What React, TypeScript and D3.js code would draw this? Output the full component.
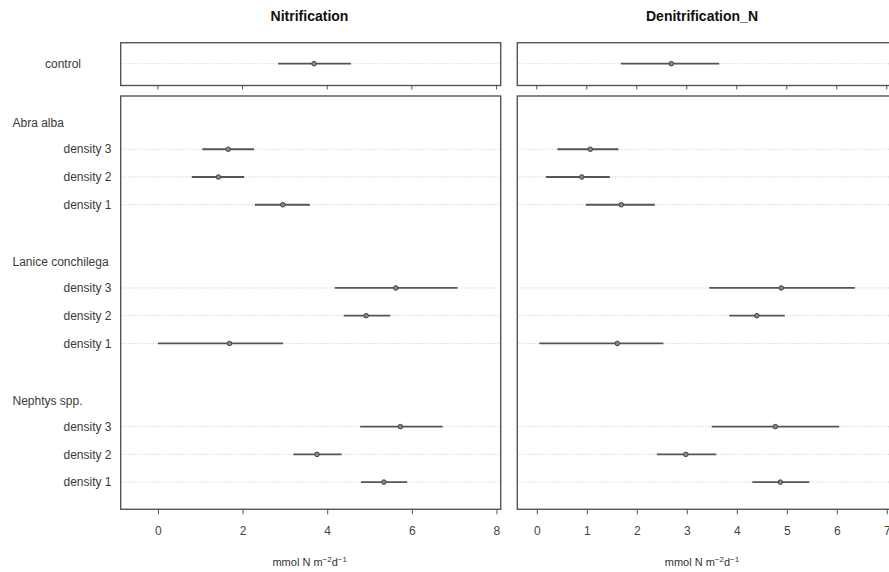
import React, { useEffect, useRef } from "react";
import * as d3 from "d3";

const panelTitles = ["Nitrification", "Denitrification_N"];
const groups = ["Abra alba", "Lanice conchilega", "Nephtys spp."];
const densities = ["density 3", "density 2", "density 1"];
const controlLabel = "control";

// Nitrification (control first, then group x density rows top to bottom)
const nitrCtrl = [3.69, 2.84, 4.56];
const nitrMean = [1.66, 1.43, 2.95, 5.62, 4.92, 1.69, 5.73, 3.76, 5.34];
const nitrLo = [1.05, 0.8, 2.29, 4.18, 4.39, 0.0, 4.78, 3.2, 4.8];
const nitrHi = [2.27, 2.04, 3.59, 7.08, 5.49, 2.96, 6.73, 4.34, 5.89];

// Denitrification_N
const denCtrl = [2.69, 1.68, 3.65];
const denMean = [1.07, 0.9, 1.69, 4.89, 4.4, 1.61, 4.77, 2.98, 4.87];
const denLo = [0.41, 0.18, 0.98, 3.45, 3.85, 0.05, 3.5, 2.4, 4.31];
const denHi = [1.63, 1.46, 2.36, 6.36, 4.96, 2.53, 6.05, 3.59, 5.45];

const nitrTicks = [0, 2, 4, 6, 8];
const denTicks = [0, 1, 2, 3, 4, 5, 6, 7];

export default function App() {
  const ref = useRef<SVGSVGElement>(null);
  useEffect(() => {
    const svg = d3.select(ref.current);
    svg.selectAll("*").remove();
    const font = "'Liberation Sans', Arial, sans-serif";
    const textCol = "#3a3a3a";
    const ctrlTop = 42.7, ctrlBot = 85.5, ctrlY = 63.7;
    const mainTop = 96, mainBot = 509.3;
    const y = d3.scaleLinear().domain([-0.92, 13.98]).range([mainTop, mainBot]);

    const panels = [
      { title: panelTitles[0], x: d3.scaleLinear().domain([-0.88, 8.1]).range([120.7, 500.7]), ticks: nitrTicks,
        ctrl: nitrCtrl, mean: nitrMean, lo: nitrLo, hi: nitrHi, titleX: 309.5 },
      { title: panelTitles[1], x: d3.scaleLinear().domain([-0.39, 7.3]).range([517.3, 901.8]), ticks: denTicks,
        ctrl: denCtrl, mean: denMean, lo: denLo, hi: denHi, titleX: 702 },
    ];

    // rows
    const rowIdx: number[] = [];
    groups.forEach((g, gi) => densities.forEach((d, di) => rowIdx.push(gi * 5 + 1 + di)));

    // left labels
    svg.append("text").attr("x", 45).attr("y", ctrlY).attr("dy", "0.35em")
      .attr("font-family", font).attr("font-size", 12).attr("fill", textCol).text(controlLabel);
    groups.forEach((g, gi) => {
      svg.append("text").attr("x", 12.5).attr("y", y(gi * 5) + 1.5).attr("dy", "0.35em")
        .attr("font-family", font).attr("font-size", 12).attr("fill", textCol).text(g);
      densities.forEach((d, di) => {
        svg.append("text").attr("x", 111.5).attr("y", y(gi * 5 + 1 + di)).attr("dy", "0.35em")
          .attr("text-anchor", "end").attr("font-family", font).attr("font-size", 12).attr("fill", textCol).text(d);
      });
    });

    panels.forEach((p) => {
      const [x0, x1] = p.x.range();
      const g = svg.append("g");
      // title
      g.append("text").attr("x", p.titleX).attr("y", 20.5).attr("text-anchor", "middle")
        .attr("font-family", font).attr("font-size", 14).attr("font-weight", "bold").attr("fill", "#111").text(p.title);

      // control panel
      g.append("line").attr("x1", x0 + 2).attr("x2", x1 - 2).attr("y1", ctrlY).attr("y2", ctrlY)
        .attr("stroke", "#c4c4c4").attr("stroke-width", 1).attr("stroke-dasharray", "1,2");
      g.append("line").attr("x1", p.x(p.ctrl[1])).attr("x2", p.x(p.ctrl[2])).attr("y1", ctrlY).attr("y2", ctrlY)
        .attr("stroke", "#555").attr("stroke-width", 1.8);
      g.append("circle").attr("cx", p.x(p.ctrl[0])).attr("cy", ctrlY).attr("r", 2.3)
        .attr("fill", "#888").attr("stroke", "#444").attr("stroke-width", 1);
      g.append("rect").attr("x", x0).attr("y", ctrlTop).attr("width", x1 - x0).attr("height", ctrlBot - ctrlTop)
        .attr("fill", "none").attr("stroke", "#555").attr("stroke-width", 1.4);
      g.selectAll(".ctick").data(p.ticks).enter().append("line")
        .attr("x1", (d) => p.x(d)).attr("x2", (d) => p.x(d)).attr("y1", ctrlBot).attr("y2", ctrlBot + 4)
        .attr("stroke", "#555").attr("stroke-width", 1);

      // main panel gridlines
      g.selectAll(".grid").data(rowIdx).enter().append("line")
        .attr("x1", x0 + 2).attr("x2", x1 - 2).attr("y1", (r) => y(r)).attr("y2", (r) => y(r))
        .attr("stroke", "#c4c4c4").attr("stroke-width", 1).attr("stroke-dasharray", "1,2");
      // intervals
      g.selectAll(".ci").data(rowIdx).enter().append("line")
        .attr("x1", (r, i) => p.x(p.lo[i])).attr("x2", (r, i) => p.x(p.hi[i]))
        .attr("y1", (r) => y(r)).attr("y2", (r) => y(r))
        .attr("stroke", "#555").attr("stroke-width", 1.8);
      g.selectAll(".pt").data(rowIdx).enter().append("circle")
        .attr("cx", (r, i) => p.x(p.mean[i])).attr("cy", (r) => y(r)).attr("r", 2.3)
        .attr("fill", "#888").attr("stroke", "#444").attr("stroke-width", 1);
      g.append("rect").attr("x", x0).attr("y", mainTop).attr("width", x1 - x0).attr("height", mainBot - mainTop)
        .attr("fill", "none").attr("stroke", "#555").attr("stroke-width", 1.4);

      // axis
      const axis = d3.axisBottom(p.x).tickValues(p.ticks).tickSize(5).tickPadding(12).tickFormat(d3.format("d"));
      const ag = g.append("g").attr("transform", `translate(0,${mainBot})`).call(axis);
      ag.select(".domain").remove();
      ag.selectAll("line").attr("stroke", "#555");
      ag.selectAll("text").attr("font-family", font).attr("font-size", 12).attr("fill", "#444");

      // axis title
      const cx = p === panels[0] ? 309.7 : 702;
      const t = g.append("text").attr("x", cx).attr("y", 566).attr("text-anchor", "middle")
        .attr("font-family", font).attr("font-size", 11).attr("fill", "#333");
      t.append("tspan").text("mmol N m");
      t.append("tspan").attr("font-size", 8).attr("dy", -4).text("−2");
      t.append("tspan").attr("dy", 4).text("d");
      t.append("tspan").attr("font-size", 8).attr("dy", -4).text("−1");
    });
  }, []);
  return (
    <svg ref={ref} width={889} height={572} style={{ position: "absolute", left: 0, top: 0, background: "#fff" }} />
  );
}
